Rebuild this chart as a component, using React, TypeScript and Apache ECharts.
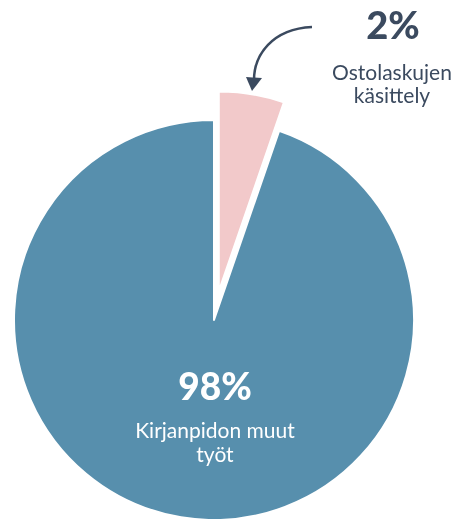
import React, { useEffect, useRef } from "react";
import * as echarts from "echarts";

const categories = ["Ostolaskujen käsittely", "Kirjanpidon muut työt"];
const values = [2, 98];
const percentLabels = ["2%", "98%"];
const nameLines = [["Ostolaskujen", "käsittely"], ["Kirjanpidon muut", "työt"]];
const colors = ["#f2c9ca", "#578fad"];

export default function App() {
  const ref = useRef<HTMLDivElement>(null);
  useEffect(() => {
    if (!ref.current) return;
    const chart = echarts.init(ref.current, null, { renderer: "svg" });
    const font = "Lato, 'Noto Sans', sans-serif";
    const dark = "#3b4a5f";
    const txt = (x: number, y: number, text: string, f: string, fill: string) => ({
      type: "text",
      x,
      y,
      z: 100,
      style: { text, font: f, fill, align: "center", verticalAlign: "middle" },
    });
    chart.setOption({
      animation: false,
      series: [
        {
          type: "pie",
          center: [214, 320],
          radius: 200,
          startAngle: 90,
          clockwise: true,
          minAngle: 19,
          selectedMode: "single",
          selectedOffset: 29,
          label: { show: false },
          labelLine: { show: false },
          emphasis: { disabled: true },
          itemStyle: { borderColor: "#ffffff", borderWidth: 2 },
          data: categories.map((c, i) => ({
            name: c,
            value: values[i],
            selected: i === 0,
            itemStyle: { color: colors[i] },
          })),
        },
      ],
      graphic: [
        txt(393, 24, percentLabels[0], `900 38px ${font}`, dark),
        txt(392, 71, nameLines[0][0], `21px ${font}`, dark),
        txt(392, 94, nameLines[0][1], `21px ${font}`, dark),
        txt(215, 385, percentLabels[1], `900 37px ${font}`, "#ffffff"),
        txt(215, 429, nameLines[1][0], `21px ${font}`, "#ffffff"),
        txt(215, 453, nameLines[1][1], `21px ${font}`, "#ffffff"),
        {
          type: "bezierCurve",
          z: 100,
          shape: { x1: 312, y1: 27, cpx1: 272, cpy1: 29, cpx2: 254, cpy2: 55, x2: 254, y2: 80 },
          style: { stroke: dark, lineWidth: 2.5, fill: null },
        },
        {
          type: "polygon",
          z: 100,
          shape: { points: [[246, 77], [262, 78], [252, 91]] },
          style: { fill: dark },
        },
      ],
    });
    return () => chart.dispose();
  }, []);
  return (
    <div
      ref={ref}
      style={{ position: "fixed", left: 0, top: 0, width: 456, height: 519 }}
    />
  );
}
